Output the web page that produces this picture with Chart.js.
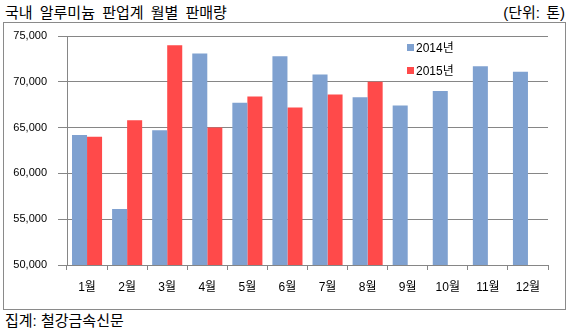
<!DOCTYPE html>
<html>
<head>
<meta charset="utf-8">
<script src="https://cdn.jsdelivr.net/npm/chart.js@4/dist/chart.umd.min.js"></script>
<style>
  body { margin: 0; background: #fff; width: 571px; height: 330px; position: relative; overflow: hidden;
         font-family: "Liberation Sans", "Noto Sans CJK KR", sans-serif; color: #000; }
  #title { position: absolute; left: 5px; top: 1px; font-size: 15px; word-spacing: 3px; }
  #unit { position: absolute; right: 6px; top: 1px; font-size: 15px; word-spacing: 2px; }
  #box { position: absolute; left: 3px; top: 22px; width: 561px; height: 286px; border: 1px solid #8a8a8a; }
  #foot { position: absolute; left: 5px; top: 309px; font-size: 15px; }
  .leg { position: absolute; left: 407px; font-size: 12px; line-height: 14px; }
  .leg span { display: inline-block; width: 7px; height: 7px; margin-right: 2px; vertical-align: 1px; }
</style>
</head>
<body>
<div id="title">국내 알루미늄 판업계 월별 판매량</div>
<div id="unit">(단위: 톤)</div>
<div id="box"><canvas id="myChart" width="561" height="286"></canvas></div>
<div id="foot">집계: 철강금속신문</div>
<div id="legend"></div>
<script>
// months
var months = ['1월', '2월', '3월', '4월', '5월', '6월', '7월', '8월', '9월', '10월', '11월', '12월'];
// sales in tons
var sales2014 = [64200, 56100, 64700, 73100, 67700, 72800, 70800, 68300, 67400, 69000, 71700, 71100];
var sales2015 = [64000, 65800, 74000, 65000, 68400, 67200, 68600, 70000, null, null, null, null];
var seriesNames = ['2014년', '2015년'];
var seriesColors = ['#7fa1d0', '#ff4a4a'];

var gridColor = '#868686';

var ctx = document.getElementById('myChart').getContext('2d');

var myChart = new Chart(ctx, {
    type: 'bar',
    data: {
        labels: months,
        datasets: [{
            label: seriesNames[0],
            data: sales2014,
            backgroundColor: seriesColors[0],
            categoryPercentage: 0.75,
            barPercentage: 1.0
        }, {
            label: seriesNames[1],
            data: sales2015,
            backgroundColor: seriesColors[1],
            categoryPercentage: 0.75,
            barPercentage: 1.0
        }]
    },
    options: {
        responsive: false,
        animation: false,
        layout: { padding: { top: 13, right: 17, left: 0, bottom: 0 } },
        plugins: {
            legend: { display: false },
            tooltip: { enabled: false }
        },
        scales: {
            x: {
                grid: { offset: true, drawOnChartArea: false, drawTicks: true, tickLength: 5, color: gridColor },
                border: { color: gridColor },
                ticks: { color: '#000', padding: 10, font: { family: '"Liberation Sans", "Noto Sans CJK KR"', size: 12 } },
                afterFit: function (scale) { scale.height = 44; }
            },
            y: {
                min: 50000,
                max: 75000,
                grid: { color: gridColor, tickLength: 9 },
                border: { color: gridColor },
                ticks: {
                    stepSize: 5000,
                    padding: 11,
                    color: '#000',
                    font: { family: '"Liberation Sans"', size: 11 },
                    callback: function (v) { return v.toLocaleString('en-US'); }
                },
                afterFit: function (scale) {
                    scale.width = 63;
                    // tick padding would otherwise push the plot top down
                    scale.paddingTop = 7;
                    scale.paddingBottom = 7;
                }
            }
        }
    }
});

// legend drawn in html, inside the plot area
var legend = document.getElementById('legend');
var legendTops = [41, 64];
seriesNames.forEach(function (name, i) {
    var d = document.createElement('div');
    d.className = 'leg';
    d.style.top = legendTops[i] + 'px';
    d.innerHTML = '<span style="background:' + seriesColors[i] + '"></span>' + name;
    legend.appendChild(d);
});
</script>
</body>
</html>
